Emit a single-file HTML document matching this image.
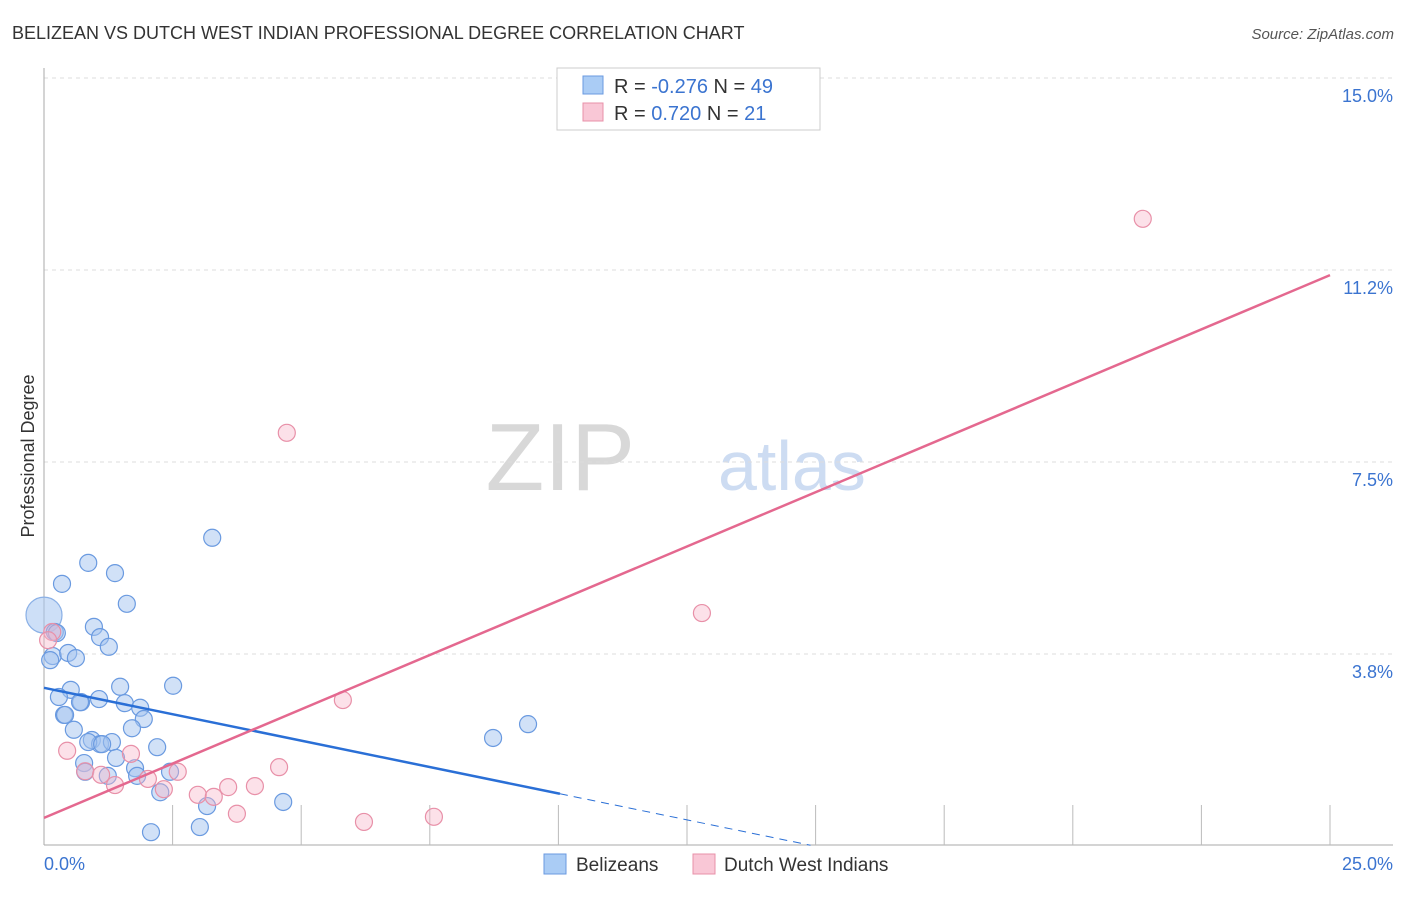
<!DOCTYPE html>
<html><head><meta charset="utf-8"><style>
body{margin:0;background:#fff;font-family:"Liberation Sans",sans-serif;}
svg text{font-family:"Liberation Sans",sans-serif;}
</style></head><body>
<svg id="chart" width="1406" height="892">
<text x="12" y="39" font-size="18" fill="#333">BELIZEAN VS DUTCH WEST INDIAN PROFESSIONAL DEGREE CORRELATION CHART</text>
<text x="1394" y="39" font-size="15" fill="#555" font-style="italic" text-anchor="end">Source: ZipAtlas.com</text>
<text x="635" y="490" font-size="96" fill="#d8d8d8" font-family="Liberation Serif" text-anchor="end">ZIP</text>
<text x="718" y="490" font-size="70" fill="#cddcf2">atlas</text>
<g id="grid"></g><g id="axes"></g><g id="marks"></g>
<text transform="translate(34,456) rotate(-90)" font-size="18" fill="#333" text-anchor="middle">Professional Degree</text>
<g>
<rect x="557" y="68" width="263" height="62" fill="#fff" stroke="#ccc"/>
<rect x="583" y="76" width="20" height="18" fill="#aaccf5" stroke="#6a9ae0"/>
<rect x="583" y="103" width="20" height="18" fill="#f9c7d6" stroke="#e890a8"/>
<text x="614" y="93" font-size="20" fill="#333">R = <tspan fill="#3b74d0">-0.276</tspan>   N = <tspan fill="#3b74d0">49</tspan></text>
<text x="614" y="120" font-size="20" fill="#333">R =  <tspan fill="#3b74d0">0.720</tspan>   N =  <tspan fill="#3b74d0">21</tspan></text>
</g>
<g>
<rect x="544" y="854" width="22" height="20" fill="#aaccf5" stroke="#6a9ae0"/>
<text x="576" y="871" font-size="19" fill="#333">Belizeans</text>
<rect x="693" y="854" width="22" height="20" fill="#f9c7d6" stroke="#e890a8"/>
<text x="724" y="871" font-size="19" fill="#333">Dutch West Indians</text>
</g>
</svg>
<script>
const blueX=[3.27,0.86,1.38,0.35,1.61,0.21,0.97,1.09,1.26,0.17,0.47,0.62,0.52,0.29,1.07,0.72,1.48,2.51,1.57,1.87,1.94,0.39,0.58,0.93,1.09,1.32,1.71,2.20,1.40,0.78,0.80,1.24,1.77,1.81,2.45,2.26,3.17,4.65,2.08,3.03,8.73,9.41,0.86,0.41,0.12,0.25,1.13,0.70];
const blueY=[6.02,5.53,5.33,5.12,4.73,4.18,4.28,4.08,3.89,3.71,3.77,3.67,3.05,2.91,2.87,2.81,3.11,3.13,2.79,2.70,2.48,2.56,2.27,2.07,1.99,2.03,2.30,1.93,1.72,1.62,1.45,1.37,1.52,1.37,1.45,1.05,0.78,0.86,0.27,0.37,2.11,2.38,2.03,2.56,3.63,4.16,1.99,2.81];
const pinkX=[21.36,4.72,12.79,5.81,0.16,0.08,0.45,1.69,4.57,0.80,2.60,1.11,1.38,2.02,2.33,2.99,3.30,3.58,4.10,3.75,6.22,7.58];
const pinkY=[12.25,8.07,4.55,2.85,4.18,4.02,1.86,1.80,1.54,1.46,1.45,1.39,1.19,1.31,1.11,1.00,0.96,1.15,1.17,0.63,0.47,0.57];
const bigX=[0.0], bigY=[4.51];
const yTicks=[3.75,7.5,11.25,15.0];
const yTickLabels=["3.8%","7.5%","11.2%","15.0%"];
const xTicks=[2.5,5,7.5,10,12.5,15,17.5,20,22.5,25];
const blueTrend=[3.09,1.02,10.03,14.9]; // y0, y at solid end, solid end x, dashed end x
const pinkTrend=[0.55,11.15];
const X=v=>44+v*51.44, Y=v=>846-v*51.2;
const NS="http://www.w3.org/2000/svg";
function mk(t,p,a){const e=document.createElementNS(NS,t);for(const k in a)e.setAttribute(k,a[k]);p.appendChild(e);return e;}
const grid=document.getElementById('grid'),axes=document.getElementById('axes'),marks=document.getElementById('marks');
yTicks.forEach((t,i)=>{
 const l=mk('line',grid,{x1:44,x2:1393,y1:Y(t),y2:Y(t),stroke:'#ddd','stroke-dasharray':'4,4'});
 
 
 const tx=mk('text',grid,{x:1393,y:Y(t)+24,'font-size':18,fill:'#3b74d0','text-anchor':'end'});
 tx.textContent=yTickLabels[i];
 
 
});
const ya=mk('line',axes,{x1:44,x2:44,y1:68,y2:845,stroke:'#aaa'});


const xa=mk('line',axes,{x1:44,x2:1393,y1:845,y2:845,stroke:'#aaa'});


xTicks.forEach(t=>{const l=mk('line',axes,{x1:X(t),x2:X(t),y1:805,y2:845,stroke:'#bbb'});
 
 });
const x0=mk('text',axes,{x:44,y:870,'font-size':18,fill:'#3b74d0'});x0.textContent='0.0%';


const x1=mk('text',axes,{x:1393,y:870,'font-size':18,fill:'#3b74d0','text-anchor':'end'});x1.textContent='25.0%';


function dot(x,y,r,fill,stroke,name){const c=mk('circle',marks,{cx:X(x),cy:Y(y),r:r,fill:fill,stroke:stroke,'stroke-width':1.2});
 
 }
bigX.forEach((x,i)=>dot(x,bigY[i],18,'rgba(164,196,240,0.55)','#8ab0e6','belizean-point'));
blueX.forEach((x,i)=>dot(x,blueY[i],8.5,'rgba(164,196,240,0.5)','#6a9ae0','belizean-point'));
pinkX.forEach((x,i)=>dot(x,pinkY[i],8.5,'rgba(248,180,200,0.4)','#e890a8','dutch-point'));
const bs=(blueTrend[1]-blueTrend[0])/blueTrend[2];
const b1=mk('line',marks,{x1:X(0),y1:Y(blueTrend[0]),x2:X(blueTrend[2]),y2:Y(blueTrend[1]),stroke:'#2a6fd6','stroke-width':2.5});


const b2=mk('line',marks,{x1:X(blueTrend[2]),y1:Y(blueTrend[1]),x2:X(blueTrend[3]),y2:Y(blueTrend[0]+bs*blueTrend[3]),stroke:'#2a6fd6','stroke-width':1,'stroke-dasharray':'8,6'});


const p1=mk('line',marks,{x1:X(0),y1:Y(pinkTrend[0]),x2:X(25),y2:Y(pinkTrend[1]),stroke:'#e4688f','stroke-width':2.5});


</script>
</body></html>
